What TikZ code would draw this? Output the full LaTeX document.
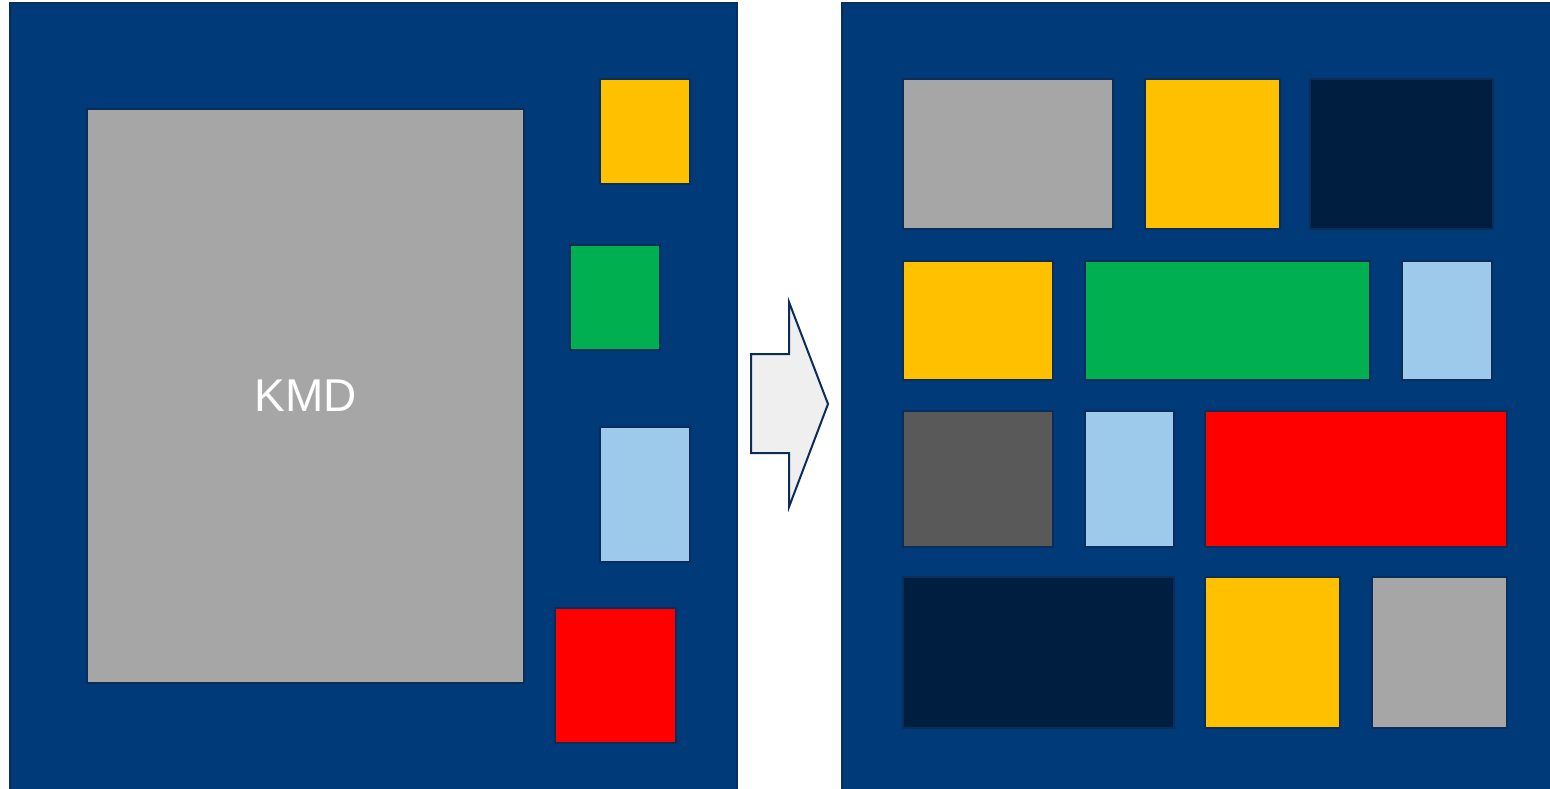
\documentclass[tikz,border=0pt]{standalone}
\usepackage{fontspec}
\setmainfont{Liberation Sans}
\definecolor{panelblue}{HTML}{003A79}
\definecolor{edgeblue}{HTML}{0B2D5A}
\definecolor{kgray}{HTML}{A6A6A6}
\definecolor{kyellow}{HTML}{FFC000}
\definecolor{kgreen}{HTML}{00B050}
\definecolor{klblue}{HTML}{9DC9EA}
\definecolor{kred}{HTML}{FF0000}
\definecolor{kdgray}{HTML}{595959}
\definecolor{knavy}{HTML}{001F40}
\definecolor{arrowfill}{HTML}{EFEFEF}
\tikzset{
  panel/.style={draw=edgeblue, line width=2pt, fill=panelblue},
  blk/.style={draw=edgeblue, line width=2pt, inner sep=0pt, outer sep=0pt, anchor=north west},
}
\newcommand{\blkat}[7]{% name, fill, x1, y1, x2, y2, text
  \pgfmathsetmacro{\bw}{#5-#3}\pgfmathsetmacro{\bh}{#6-#4}%
  \node[blk, fill=#2, minimum width=\bw pt, minimum height=\bh pt] (#1) at (#3,#4) {#7};}
\begin{document}
\begin{tikzpicture}[x=1pt,y=-1pt]
\useasboundingbox (0,0) rectangle (1550,788);
\fill[white] (0,0) rectangle (1550,788);
% panels
\draw[panel] (10,3) rectangle (737,800);
\draw[panel] (842,3) rectangle (1560,800);
% left panel
\blkat{kmd}{kgray}{87}{109}{524}{683}{\raisebox{-3pt}{\color{white}\fontsize{46}{50}\selectfont KMD}}
\blkat{ly}{kyellow}{600}{79}{690}{184}{}
\blkat{lg}{kgreen}{570}{245}{660}{350}{}
\blkat{lb}{klblue}{600}{427}{690}{562}{}
\blkat{lr}{kred}{555}{608}{676}{743}{}
% arrow
\draw[draw=edgeblue, line width=2pt, fill=arrowfill, line join=miter]
  (751,354) -- (789,354) -- (789,302) -- (828,404) -- (789,507) -- (789,453) -- (751,453) -- cycle;
% right panel
\blkat{r1a}{kgray}{903}{79}{1113}{229}{}
\blkat{r1b}{kyellow}{1145}{79}{1280}{229}{}
\blkat{r1c}{knavy}{1310}{79}{1493}{229}{}
\blkat{r2a}{kyellow}{903}{261}{1053}{380}{}
\blkat{r2b}{kgreen}{1085}{261}{1370}{380}{}
\blkat{r2c}{klblue}{1402}{261}{1492}{380}{}
\blkat{r3a}{kdgray}{903}{411}{1053}{547}{}
\blkat{r3b}{klblue}{1085}{411}{1174}{547}{}
\blkat{r3c}{kred}{1205}{411}{1507}{547}{}
\blkat{r4a}{knavy}{903}{577}{1174}{728}{}
\blkat{r4b}{kyellow}{1205}{577}{1340}{728}{}
\blkat{r4c}{kgray}{1372}{577}{1507}{728}{}
\end{tikzpicture}
\end{document}
